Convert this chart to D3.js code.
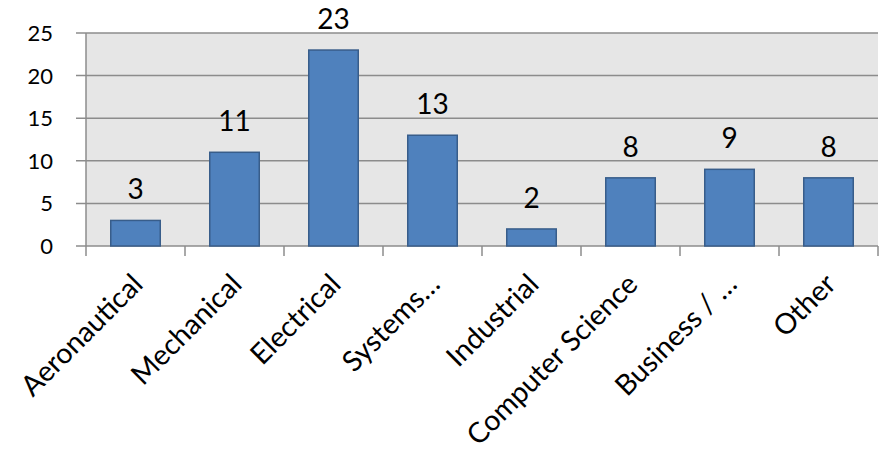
<!DOCTYPE html>
<html>
<head>
<meta charset="utf-8">
<script src="https://cdn.jsdelivr.net/npm/d3@7"></script>
<style>
  html, body { margin: 0; padding: 0; background: #fff; }
  svg { display: block; }
  text { font-family: Lato, "Open Sans", sans-serif; fill: #000; }
</style>
</head>
<body>
<svg id="chart" width="881" height="454"></svg>
<script>
// Majors reported, counts per discipline
const categories = ["Aeronautical", "Mechanical", "Electrical", "Systems…", "Industrial",
                    "Computer Science", "Business / …", "Other"];
const counts = [3, 11, 23, 13, 2, 8, 9, 8];
const yTicks = [0, 5, 10, 15, 20, 25];

const W = 881, H = 454;
const margin = { top: 33, right: 3, bottom: 208, left: 86 };
const innerW = W - margin.left - margin.right;
const innerH = H - margin.top - margin.bottom;

const svg = d3.select("#chart");
const g = svg.append("g").attr("transform", `translate(${margin.left},${margin.top})`);

const x = d3.scaleBand().domain(categories).range([0, innerW]).paddingInner(0.5).paddingOuter(0.25);
const xEdges = d3.scaleBand().domain(categories).range([0, innerW]);
const y = d3.scaleLinear().domain([0, 25]).range([innerH, 0]);

// plot background
g.append("rect").attr("x", 0).attr("y", 0).attr("width", innerW).attr("height", innerH)
  .attr("fill", "#e6e6e6");

// horizontal gridlines, with tick stubs left of the axis
g.append("g").selectAll("line").data(yTicks).join("line")
  .attr("x1", -10).attr("x2", innerW)
  .attr("y1", d => y(d)).attr("y2", d => y(d))
  .attr("stroke", "#8c8c8c").attr("stroke-width", 1.5);

// y axis line
g.append("line").attr("x1", 0).attr("x2", 0).attr("y1", 0).attr("y2", innerH)
  .attr("stroke", "#8c8c8c").attr("stroke-width", 1.5);

// y tick labels
g.append("g").selectAll("text").data(yTicks).join("text")
  .attr("x", -33).attr("y", d => y(d)).attr("dy", "0.36em")
  .attr("text-anchor", "end").attr("font-size", 22)
  .text(d => d);

// x axis tick marks at category boundaries
const edges = categories.map(c => xEdges(c)).concat([innerW]);
g.append("g").selectAll("line").data(edges).join("line")
  .attr("x1", d => d).attr("x2", d => d)
  .attr("y1", innerH).attr("y2", innerH + 10)
  .attr("stroke", "#8c8c8c").attr("stroke-width", 1.5);

// bars
g.append("g").selectAll("rect").data(counts).join("rect")
  .attr("x", (d, i) => x(categories[i]))
  .attr("y", d => y(d))
  .attr("width", x.bandwidth())
  .attr("height", d => innerH - y(d))
  .attr("fill", "#4f81bd").attr("stroke", "#385d8a").attr("stroke-width", 1.5);

// value labels
g.append("g").selectAll("text").data(counts).join("text")
  .attr("x", (d, i) => x(categories[i]) + x.bandwidth() / 2)
  .attr("y", d => y(d) - 21)
  .attr("text-anchor", "middle").attr("font-size", 28)
  .text(d => d);

// category labels, rotated
g.append("g").selectAll("text").data(categories).join("text")
  .attr("transform", d => {
    const cx = x(d) + x.bandwidth() / 2 + 9;
    return `translate(${cx},${innerH + 40}) rotate(-45)`;
  })
  .attr("text-anchor", "end").attr("font-size", 28.5)
  .text(d => d);
</script>
</body>
</html>
